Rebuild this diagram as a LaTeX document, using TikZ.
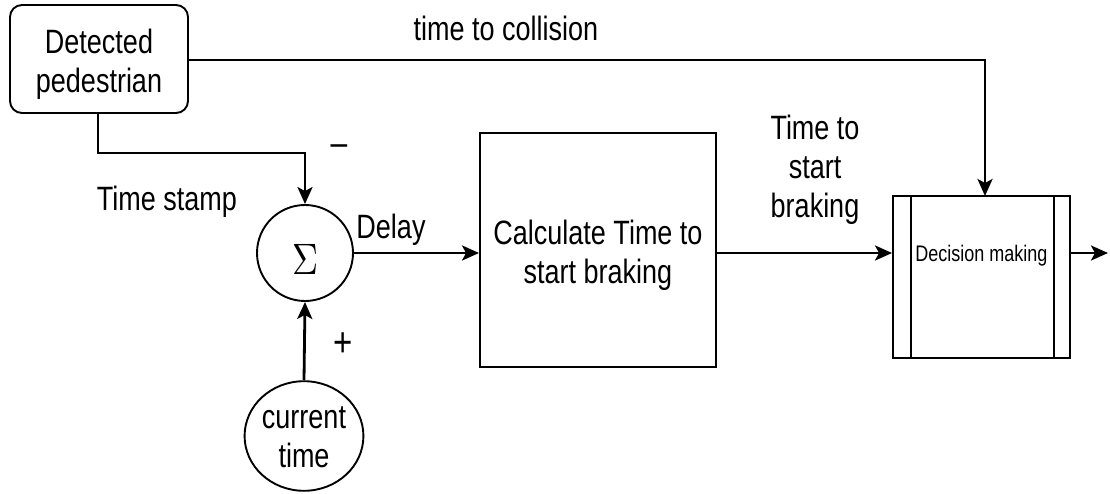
\documentclass[tikz,border=0pt]{standalone}
\usepackage{fontspec}
\usepackage{graphicx}
\setmainfont{Liberation Sans}
\usetikzlibrary{arrows.meta,positioning,shapes.geometric}
% tall, narrow lettering: stack the lines, stretch them vertically, settle them a little lower
\newcommand\tallstack[2][-4pt]{\raisebox{#1}[\height][\depth]{\scalebox{1}[1.25]{\begin{tabular}{@{}c@{}}#2\end{tabular}}}}
\begin{document}
\begin{tikzpicture}[x=1pt,y=-1pt,
  line width=2.8pt,
  flow/.style={-{Stealth[length=17pt,width=15pt,inset=4pt]}},
  big/.style={font=\fontsize{27}{31}\selectfont},
  lbl/.style={big, inner sep=0pt},
  blk/.style={draw, line width=1.9pt, inner sep=0pt, big}]
\useasboundingbox (0,0) rectangle (1110,494);
% blocks
\node[blk, rounded corners=12pt, minimum width=178pt, minimum height=108pt] (ped) at (99,59) {\tallstack[-6pt]{Detected\\pedestrian}};
\node[draw, line width=1.9pt, circle, minimum size=96pt, inner sep=0pt] (sum) at (305,253) {\raisebox{-6pt}[\height][\depth]{\scalebox{3.6}[4.4]{$\Sigma$}}};
\node[blk, ellipse, minimum width=118pt, minimum height=108pt] (cur) at (304,436) {\tallstack{current\\time}};
\node[blk, minimum width=236pt, minimum height=234pt] (calc) at (598,250) {\tallstack[-6pt]{Calculate Time to\\start braking}};
\node[draw, line width=1.9pt, minimum width=177pt, minimum height=162pt, inner sep=0pt, font=\fontsize{18}{20}\selectfont] (dec) at (981.5,277) {\tallstack[21pt]{Decision making}};
\draw[line width=1.9pt] ([xshift=19pt]dec.north west) -- ([xshift=19pt]dec.south west);
\draw[line width=1.9pt] ([xshift=-17pt]dec.north east) -- ([xshift=-17pt]dec.south east);
\coordinate (out) at (1108,253);
% connectors
\draw[flow] (ped.south) ++(-1,0) |- (305,153) -- (sum.north);
\draw[flow] (ped.east |- 0,60) -| (985,196);
\draw[flow] (cur.north) -- (sum.south);
\draw[flow] (sum.east) -- (calc.west |- sum.east);
\draw[flow] (calc.east |- sum.east) -- (dec.west |- sum.east);
\draw[flow] (dec.east |- sum.east) -- (out);
% labels
\node[lbl] (ttc) at (506,27) {\tallstack[-6pt]{time to collision}};
\node[lbl] (ts) at (167,198) {\tallstack[-5pt]{Time stamp}};
\node[lbl] (dl) at (391,226) {\tallstack[-5pt]{Delay}};
\node[lbl, font=\fontsize{30}{30}\selectfont] (minus) at (339,148) {\tallstack[0pt]{\textendash}};
\node[lbl, font=\fontsize{33}{33}\selectfont] (plus) at (343,346) {\tallstack[-2pt]{+}};
\node[lbl] (tsb) at (815,166) {\tallstack[-5pt]{Time to\\start\\braking}};
\end{tikzpicture}
\end{document}
